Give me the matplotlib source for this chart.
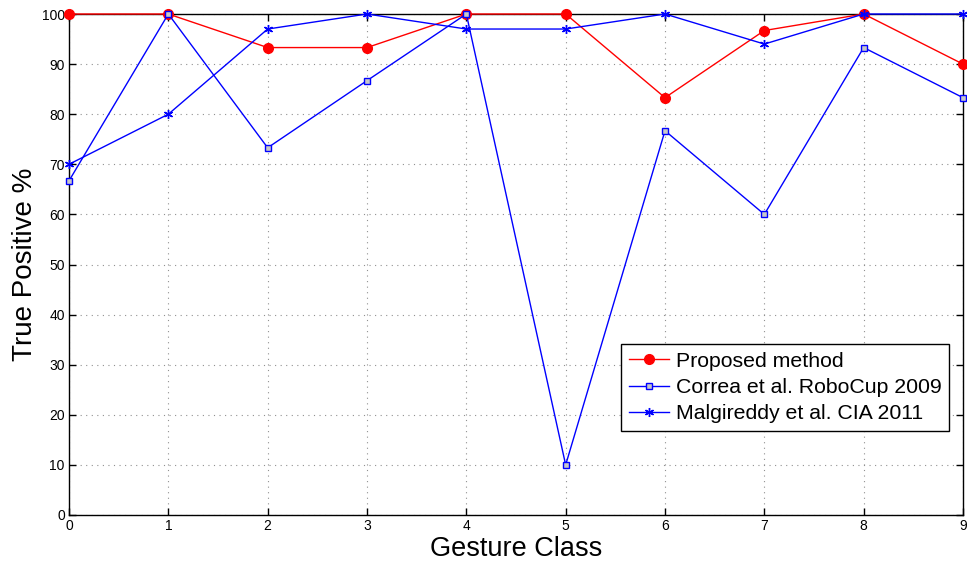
import matplotlib
matplotlib.use("Agg")
import matplotlib.pyplot as plt

plt.rcParams['font.family'] = ['Liberation Sans', 'DejaVu Sans']

gesture_class = [0, 1, 2, 3, 4, 5, 6, 7, 8, 9]
proposed = [100, 100, 93.3, 93.3, 100, 100, 83.3, 96.7, 100, 90]
correa = [66.7, 100, 73.3, 86.7, 100, 10, 76.7, 60, 93.3, 83.3]
malgireddy = [70, 80, 97, 100, 97, 97, 100, 94, 100, 100]
labels = ['Proposed method', 'Correa et al. RoboCup 2009', 'Malgireddy et al. CIA 2011']

fig = plt.figure(figsize=(9.67, 5.63), dpi=100)
ax = fig.add_axes([69/967, 1 - 515/563, (963-69)/967, (515-14)/563])

ax.plot(gesture_class, proposed, color='red', lw=1.0, marker='o', ms=7,
        mfc='red', mec='red', label=labels[0], zorder=3, clip_on=False)
ax.plot(gesture_class, correa, color='blue', lw=1.0, marker='s', ms=5,
        mfc='#c8c8c8', mec='blue', mew=1.0, label=labels[1], zorder=4, clip_on=False)
ax.plot(gesture_class, malgireddy, color='blue', lw=1.0, marker=(6, 2, 0), ms=6.5,
        mec='blue', mew=1.0, label=labels[2], zorder=5, clip_on=False)

ax.set_xlim(0, 9)
ax.set_ylim(0, 100)
ax.set_xticks(range(0, 10))
ax.set_yticks(range(0, 101, 10))
ax.grid(True, linestyle=(0, (1, 4)), color='#909090', lw=0.8)
ax.tick_params(direction='in', top=True, right=True, length=5, width=1, labelsize=10, pad=3)
for s in ax.spines.values():
    s.set_linewidth(1.0)
    s.set_color('black')

ax.set_xlabel('Gesture Class', fontsize=19.5, labelpad=2)
ax.set_ylabel('True Positive %', fontsize=20, labelpad=3)

leg = ax.legend(loc='lower right', bbox_to_anchor=(0.984, 0.168), fontsize=15.3,
                frameon=True, fancybox=False, edgecolor='black', framealpha=1,
                borderpad=0.35, handlelength=1.9, labelspacing=0.35, handletextpad=0.3,
                borderaxespad=0)
leg.get_frame().set_linewidth(1.0)

fig.savefig('out.png', dpi=100)
